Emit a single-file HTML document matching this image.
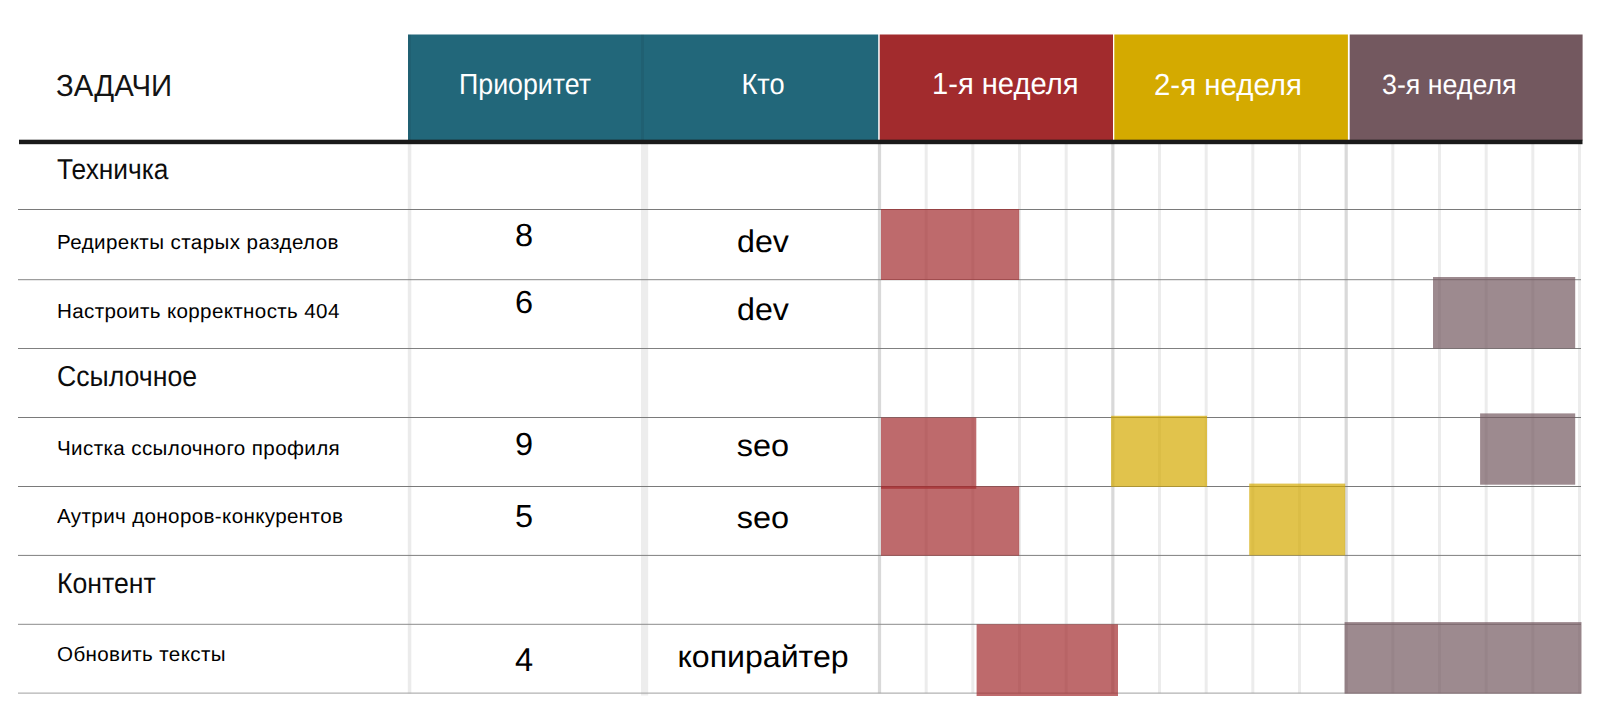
<!DOCTYPE html>
<html lang="ru"><head><meta charset="utf-8"><title>Задачи</title>
<style>html,body{margin:0;padding:0;background:#fff}body{width:1605px;height:712px;position:relative;overflow:hidden;font-family:"Liberation Sans", sans-serif}.t{position:absolute;white-space:nowrap;line-height:0;height:0;transform-origin:50% 0;text-rendering:geometricPrecision}</style></head><body>
<svg width="1605" height="712" viewBox="0 0 1605 712" style="position:absolute;left:0;top:0">
<rect x="407.8" y="144" width="3.5" height="549.5" fill="#ebebeb"/>
<rect x="641" y="144" width="7.2" height="551.5" fill="#ededed"/>
<rect x="877.90" y="144" width="3.2" height="549.3" fill="#d9d9d9"/>
<rect x="924.67" y="144" width="3" height="549.3" fill="#ececec"/>
<rect x="971.33" y="144" width="3" height="549.3" fill="#ececec"/>
<rect x="1018.00" y="144" width="3" height="549.3" fill="#ececec"/>
<rect x="1064.67" y="144" width="3" height="549.3" fill="#ececec"/>
<rect x="1111.24" y="144" width="3.2" height="549.3" fill="#d9d9d9"/>
<rect x="1158.00" y="144" width="3" height="549.3" fill="#ececec"/>
<rect x="1204.67" y="144" width="3" height="549.3" fill="#ececec"/>
<rect x="1251.34" y="144" width="3" height="549.3" fill="#ececec"/>
<rect x="1298.00" y="144" width="3" height="549.3" fill="#ececec"/>
<rect x="1344.57" y="144" width="3.2" height="549.3" fill="#d9d9d9"/>
<rect x="1391.34" y="144" width="3" height="549.3" fill="#ececec"/>
<rect x="1438.00" y="144" width="3" height="549.3" fill="#ececec"/>
<rect x="1484.67" y="144" width="3" height="549.3" fill="#ececec"/>
<rect x="1531.34" y="144" width="3" height="549.3" fill="#ececec"/>
<rect x="1578.01" y="144" width="3" height="549.3" fill="#ececec"/>
<rect x="18" y="209.00" width="1563" height="1" fill="#7a7a7a"/>
<rect x="18" y="279.20" width="1563" height="1" fill="#858585"/>
<rect x="18" y="348.00" width="1563" height="1" fill="#808080"/>
<rect x="18" y="417.00" width="1563" height="1" fill="#7a7a7a"/>
<rect x="18" y="486.00" width="1563" height="1" fill="#7a7a7a"/>
<rect x="18" y="554.90" width="1563" height="1" fill="#808080"/>
<rect x="18" y="623.80" width="1563" height="1" fill="#8c8c8c"/>
<rect x="18" y="692.60" width="1563" height="1" fill="#a0a0a0"/>
<rect x="408" y="34.5" width="470.2" height="106" fill="#22677a"/>
<rect x="408" y="34.5" width="3" height="106" fill="#000" fill-opacity="0.06"/>
<rect x="641" y="34.5" width="3" height="106" fill="#000" fill-opacity="0.06"/>
<rect x="879.7" y="34.5" width="233.3" height="106" fill="#a22b2d"/>
<rect x="1114.3" y="34.5" width="233.6" height="106" fill="#d4aa00"/>
<rect x="1349.7" y="34.5" width="232.9" height="106" fill="#73585f"/>
<rect x="19" y="139.7" width="1563.5" height="4.5" fill="#1a1a1a"/>
<rect x="881" y="209" width="138.20" height="71.00" fill="#a22b2d" fill-opacity="0.7"/>
<rect x="1433" y="277" width="142.20" height="71.50" fill="#73585f" fill-opacity="0.7"/>
<rect x="881" y="417.5" width="95.30" height="71.30" fill="#a22b2d" fill-opacity="0.7"/>
<rect x="881" y="486.3" width="138.20" height="69.40" fill="#a22b2d" fill-opacity="0.7"/>
<rect x="1111.1" y="415.8" width="95.90" height="71.00" fill="#d4aa00" fill-opacity="0.7"/>
<rect x="1249.2" y="483.6" width="96.00" height="71.80" fill="#d4aa00" fill-opacity="0.7"/>
<rect x="1480.1" y="413.4" width="95.10" height="71.30" fill="#73585f" fill-opacity="0.7"/>
<rect x="976.6" y="624.3" width="141.40" height="71.70" fill="#a22b2d" fill-opacity="0.7"/>
<rect x="1344.6" y="622.1" width="236.90" height="71.60" fill="#73585f" fill-opacity="0.7"/>
</svg>
<main class="gantt">
<div class="head">
<div class="t" style="left:56.25px;top:86px;font-size:30.4px;color:#141414;transform-origin:0 0;transform:scaleX(0.966);">ЗАДАЧИ</div>
<div class="t" style="left:524.8px;top:85px;font-size:29.1px;color:#fff;transform:translateX(-50%) scaleX(0.9186);">Приоритет</div>
<div class="t" style="left:763.45px;top:85px;font-size:29.1px;color:#fff;transform:translateX(-50%) scaleX(0.935);">Кто</div>
<div class="t" style="left:932.4px;top:84px;font-size:30.5px;color:#fff;transform-origin:0 0;transform:scaleX(0.955);">1-я неделя</div>
<div class="t" style="left:1154.1px;top:85px;font-size:30.5px;color:#fff;transform-origin:0 0;transform:scaleX(0.965);">2-я неделя</div>
<div class="t" style="left:1382.3px;top:85px;font-size:27.9px;color:#fff;transform-origin:0 0;transform:scaleX(0.96);">3-я неделя</div>
</div>
<div class="row group">
<div class="t" style="left:57px;top:170px;font-size:28.8px;color:#0c0c0c;transform-origin:0 0;transform:scaleX(0.913);">Техничка</div>
</div>
<div class="row task">
<div class="t" style="left:56.8px;top:243px;font-size:20.2px;color:#000;letter-spacing:0.4px;transform-origin:0 0;transform:scaleX(1.02);">Редиректы старых разделов</div>
<div class="t" style="left:524.35px;top:235px;font-size:31.9px;color:#000;transform:translateX(-50%) scaleX(1.02);">8</div>
<div class="t" style="left:762.55px;top:242px;font-size:31.3px;color:#000;transform:translateX(-50%) scaleX(1.028);">dev</div>
</div>
<div class="row task">
<div class="t" style="left:56.8px;top:312px;font-size:20.2px;color:#000;letter-spacing:0.35px;transform-origin:0 0;transform:scaleX(1.02);">Настроить корректность 404</div>
<div class="t" style="left:524.35px;top:302px;font-size:31.9px;color:#000;transform:translateX(-50%) scaleX(1.02);">6</div>
<div class="t" style="left:762.9px;top:310px;font-size:31.3px;color:#000;transform:translateX(-50%) scaleX(1.028);">dev</div>
</div>
<div class="row group">
<div class="t" style="left:56.7px;top:377px;font-size:28.8px;color:#0c0c0c;transform-origin:0 0;transform:scaleX(0.926);">Ссылочное</div>
</div>
<div class="row task">
<div class="t" style="left:56.8px;top:449px;font-size:20.2px;color:#000;letter-spacing:0.37px;transform-origin:0 0;transform:scaleX(1.02);">Чистка ссылочного профиля</div>
<div class="t" style="left:524.35px;top:444px;font-size:31.9px;color:#000;transform:translateX(-50%) scaleX(1.02);">9</div>
<div class="t" style="left:762.9px;top:446px;font-size:30.8px;color:#000;transform:translateX(-50%) scaleX(1.054);">seo</div>
</div>
<div class="row task">
<div class="t" style="left:56.9px;top:517px;font-size:20.2px;color:#000;letter-spacing:0.355px;transform-origin:0 0;transform:scaleX(1.02);">Аутрич доноров-конкурентов</div>
<div class="t" style="left:524.35px;top:516px;font-size:31.9px;color:#000;transform:translateX(-50%) scaleX(1.02);">5</div>
<div class="t" style="left:762.9px;top:518px;font-size:30.8px;color:#000;transform:translateX(-50%) scaleX(1.054);">seo</div>
</div>
<div class="row group">
<div class="t" style="left:56.7px;top:584px;font-size:28.8px;color:#0c0c0c;transform-origin:0 0;transform:scaleX(0.925);">Контент</div>
</div>
<div class="row task">
<div class="t" style="left:57.1px;top:655px;font-size:20.2px;color:#000;letter-spacing:0.36px;transform-origin:0 0;transform:scaleX(1.02);">Обновить тексты</div>
<div class="t" style="left:524.0px;top:660px;font-size:33px;color:#000;transform:translateX(-50%) scaleX(0.986);">4</div>
<div class="t" style="left:763.3px;top:657px;font-size:30.8px;color:#000;transform:translateX(-50%) scaleX(1.042);">копирайтер</div>
</div>
</main>
</body></html>
